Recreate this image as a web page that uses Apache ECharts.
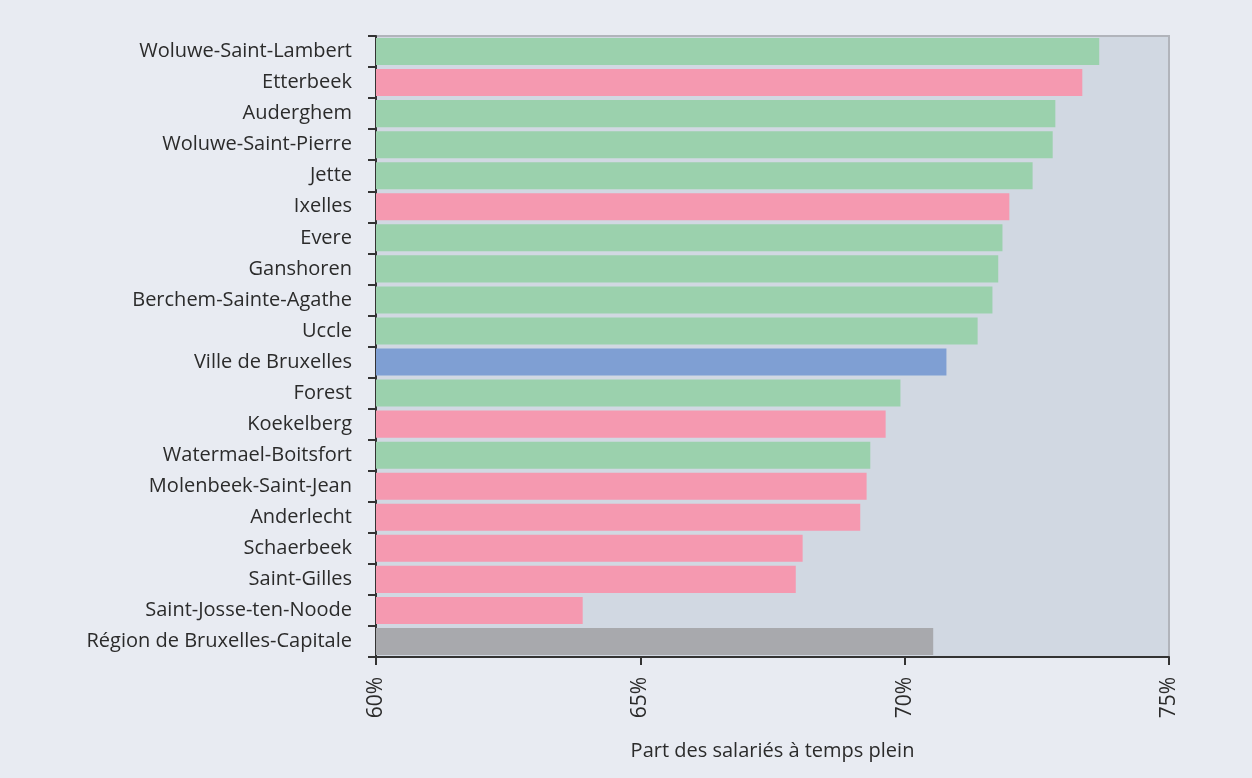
<!DOCTYPE html>
<html>
<head>
<meta charset="utf-8">
<script src="https://cdn.jsdelivr.net/npm/echarts@6/dist/echarts.min.js"></script>
<style>
  html, body { margin: 0; padding: 0; background: #e8ebf2; }
  #chart { width: 1252px; height: 778px; }
</style>
</head>
<body>
<div id="chart"></div>
<script>
// Communes of the Brussels-Capital Region, top to bottom
const communes = [
  'Woluwe-Saint-Lambert', 'Etterbeek', 'Auderghem', 'Woluwe-Saint-Pierre', 'Jette',
  'Ixelles', 'Evere', 'Ganshoren', 'Berchem-Sainte-Agathe', 'Uccle',
  'Ville de Bruxelles', 'Forest', 'Koekelberg', 'Watermael-Boitsfort', 'Molenbeek-Saint-Jean',
  'Anderlecht', 'Schaerbeek', 'Saint-Gilles', 'Saint-Josse-ten-Noode', 'Région de Bruxelles-Capitale'
];
// Share of full-time employees (%)
const fullTimeShare = [
  73.68, 73.36, 72.85, 72.80, 72.42,
  71.98, 71.85, 71.77, 71.66, 71.38,
  70.79, 69.92, 69.64, 69.35, 69.28,
  69.16, 68.07, 67.94, 63.91, 70.54
];
// Colour group of each commune
const groups = [
  'vert', 'rose', 'vert', 'vert', 'vert',
  'rose', 'vert', 'vert', 'vert', 'vert',
  'bleu', 'vert', 'rose', 'vert', 'rose',
  'rose', 'rose', 'rose', 'rose', 'region'
];
const xTicks = [60, 65, 70, 75];

const groupColors = { vert: '#9bd1ad', rose: '#f599b0', bleu: '#7f9fd3', region: '#a8a9ad' };
const fontFamily = '"Open Sans", "Noto Sans", sans-serif';
const textColor = '#2b2b2b';

const chart = echarts.init(document.getElementById('chart'), null, { renderer: 'canvas' });
chart.setOption({
  backgroundColor: '#e8ebf2',
  animation: false,
  grid: {
    left: 376, right: 83, top: 36, bottom: 121,
    show: true,
    backgroundColor: '#d1d8e2',
    borderColor: '#b1b4bb',
    borderWidth: 2
  },
  xAxis: {
    type: 'value',
    min: xTicks[0],
    max: xTicks[xTicks.length - 1],
    interval: 5,
    splitLine: { show: false },
    axisLine: { show: true, lineStyle: { color: '#333', width: 2 } },
    axisTick: { show: true, length: 8, lineStyle: { color: '#333', width: 2 } },
    axisLabel: {
      rotate: 90,
      margin: 20,
      fontSize: 21,
      color: textColor,
      fontFamily: fontFamily,
      formatter: '{value}%'
    },
    name: 'Part des salariés à temps plein',
    nameLocation: 'middle',
    nameGap: 84,
    nameTextStyle: { fontSize: 20, color: textColor, fontFamily: fontFamily }
  },
  yAxis: {
    type: 'category',
    inverse: true,
    data: communes,
    axisLine: { show: true, lineStyle: { color: '#333', width: 2 } },
    axisTick: { show: true, length: 8, alignWithLabel: false, lineStyle: { color: '#333', width: 2 } },
    axisLabel: {
      margin: 24,
      fontSize: 20,
      color: textColor,
      fontFamily: fontFamily
    }
  },
  series: [{
    type: 'bar',
    barCategoryGap: '13%',
    data: fullTimeShare.map((v, i) => ({
      value: v,
      itemStyle: { color: groupColors[groups[i]] }
    }))
  }]
});
</script>
</body>
</html>
